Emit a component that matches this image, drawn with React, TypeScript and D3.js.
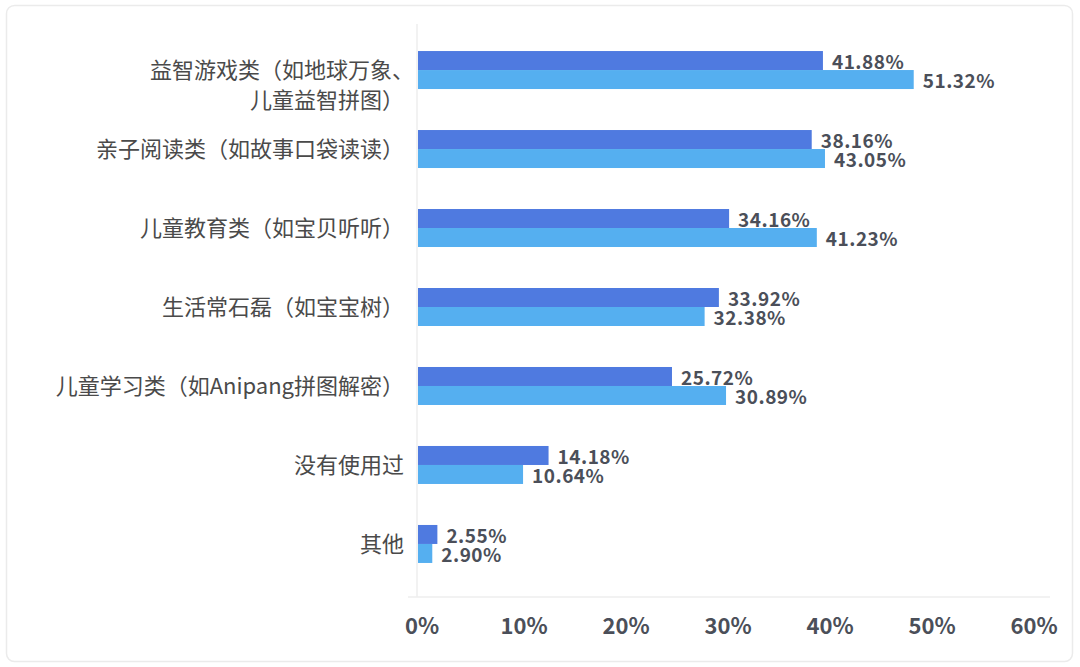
import React from "react";
import * as d3 from "d3";

const categories: string[][] = [
  ["益智游戏类（如地球万象、", "儿童益智拼图）"],
  ["亲子阅读类（如故事口袋读读）"],
  ["儿童教育类（如宝贝听听）"],
  ["生活常石磊（如宝宝树）"],
  ["儿童学习类（如Anipang拼图解密）"],
  ["没有使用过"],
  ["其他"],
];
// bar lengths as drawn in the picture (percent, read against the axis)
const barsA: number[] = [39.7, 38.6, 30.5, 29.5, 24.9, 12.8, 1.9];
const barsB: number[] = [48.6, 39.9, 39.1, 28.1, 30.2, 10.3, 1.4];
// data labels printed next to the bars
const labelsA: string[] = ["41.88%", "38.16%", "34.16%", "33.92%", "25.72%", "14.18%", "2.55%"];
const labelsB: string[] = ["51.32%", "43.05%", "41.23%", "32.38%", "30.89%", "10.64%", "2.90%"];
const tickValues: number[] = [0, 10, 20, 30, 40, 50, 60];

const W = 1080;
const H = 667;
const colorA = "#4f7ae0";
const colorB = "#55aff0";
const textColor = "#4b4f59";
const font = "'Noto Sans CJK SC', 'Noto Sans', sans-serif";

export default function App() {
  const x = d3.scaleLinear().domain([0, 60]).range([418, 1030]);
  const idx = categories.map((_, i) => String(i));
  const y = d3.scaleBand().domain(idx).range([30.5, 583.5]).paddingInner(0.519).paddingOuter(0.26);
  const bh = y.bandwidth() / 2;

  return (
    <svg width={W} height={H} style={{ position: "absolute", left: 0, top: 0, background: "#fff" }}>
      <rect x={6.5} y={5.5} width={1066} height={656} rx={8} fill="#fff" stroke="#ebebeb" strokeWidth={1.5} />
      <line x1={417} x2={417} y1={24} y2={597} stroke="#eeeeee" strokeWidth={1.5} />
      <line x1={408} x2={1050} y1={597} y2={597} stroke="#eeeeee" strokeWidth={1.5} />
      {categories.map((c, i) => {
        const y0 = y(String(i))!;
        const cy = y0 + bh;
        return (
          <g key={i}>
            <rect x={x(0)} y={y0} width={x(barsA[i]) - x(0)} height={bh} fill={colorA} />
            <rect x={x(0)} y={y0 + bh} width={x(barsB[i]) - x(0)} height={bh} fill={colorB} />
            <text x={x(barsA[i]) + 9} y={y0 + bh / 2} dominantBaseline="central" fontFamily={font} fontSize={19} letterSpacing={0.5} fontWeight={600} fill={textColor}>
              {labelsA[i]}
            </text>
            <text x={x(barsB[i]) + 9} y={y0 + bh * 1.5} dominantBaseline="central" fontFamily={font} fontSize={19} letterSpacing={0.5} fontWeight={600} fill={textColor}>
              {labelsB[i]}
            </text>
            {c.length === 1 ? (
              <text x={404} y={cy - 2} textAnchor="end" dominantBaseline="central" fontFamily={font} fontSize={22} fill="#4a4a4a">
                {c[0]}
              </text>
            ) : (
              c.map((line, j) => (
                <text key={j} x={j === 0 ? 414 : 404} y={cy - 2 + j * 30} textAnchor="end" dominantBaseline="central" fontFamily={font} fontSize={22} fill="#4a4a4a">
                  {line}
                </text>
              ))
            )}
          </g>
        );
      })}
      {tickValues.map((t) => (
        <text key={t} x={x(t) + 4} y={624} textAnchor="middle" dominantBaseline="central" fontFamily={font} fontSize={22} fontWeight={600} fill={textColor}>
          {t}%
        </text>
      ))}
    </svg>
  );
}
